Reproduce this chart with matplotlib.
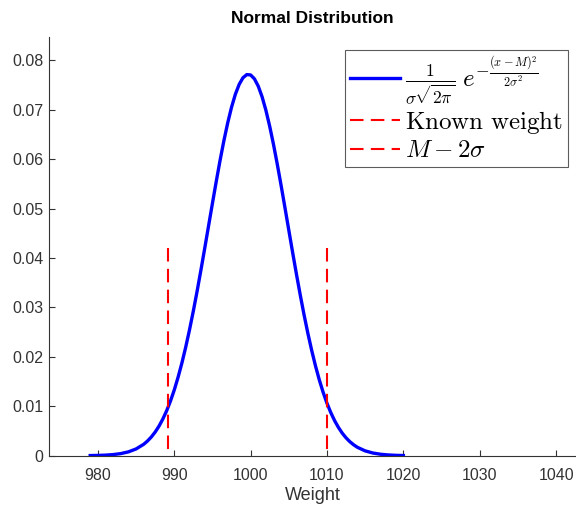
import matplotlib
matplotlib.use("Agg")
import matplotlib.pyplot as plt

# curve values (finer steps where it bends most)
weight = [
    979, 980, 981, 982, 983, 984, 985, 986, 986.5, 987, 987.5, 988, 988.5,
    989, 989.5, 990, 990.5, 991, 991.5, 992, 992.5, 993, 993.5, 994, 994.5,
    995, 995.5, 996, 996.5, 997, 997.5, 998, 998.5, 999, 999.5, 1000, 1000.5,
    1001, 1001.5, 1002, 1002.5, 1003, 1003.5, 1004, 1004.5, 1005, 1005.5,
    1006, 1006.5, 1007, 1007.5, 1008, 1008.5, 1009, 1009.5, 1010, 1010.5,
    1011, 1011.5, 1012, 1012.5, 1013, 1013.5, 1014, 1015, 1016, 1017, 1018,
    1019, 1020,
]
density = [
    0.000025, 0.000054, 0.000111, 0.00022, 0.00042, 0.00077, 0.00136, 0.00230,
    0.00297, 0.00378, 0.00477, 0.00596, 0.00739, 0.00906, 0.01102, 0.01327,
    0.01585, 0.01873, 0.02194, 0.02546, 0.02926, 0.03332, 0.03760, 0.04203,
    0.04654, 0.05105, 0.05548, 0.05974, 0.06372, 0.06733, 0.07049, 0.07311,
    0.07512, 0.07647, 0.07711, 0.07704, 0.07625, 0.07477, 0.07263, 0.06990,
    0.06664, 0.06295, 0.05890, 0.05461, 0.05015, 0.04563, 0.04113, 0.03673,
    0.03250, 0.02848, 0.02473, 0.02128, 0.01813, 0.01530, 0.01280, 0.01060,
    0.00871, 0.00708, 0.00571, 0.00455, 0.00360, 0.00282, 0.00219, 0.00168,
    0.00097, 0.00054, 0.00029, 0.00015, 0.00007, 0.00003,
]

known_weight = 1010
m_minus_2s = 989.2
marker_height = 0.042

x_ticks = [980, 990, 1000, 1010, 1020, 1030, 1040]
y_ticks = [0, 0.01, 0.02, 0.03, 0.04, 0.05, 0.06, 0.07, 0.08]
y_tick_labels = ["0", "0.01", "0.02", "0.03", "0.04", "0.05", "0.06", "0.07", "0.08"]

plt.rcParams["font.family"] = ["Liberation Sans", "DejaVu Sans"]
plt.rcParams["mathtext.fontset"] = "cm"

ink = "#333333"

fig = plt.figure(figsize=(5.76, 5.08), dpi=100)
ax = fig.add_axes([0.085, 0.103, 0.915, 0.824])

ax.plot(weight, density, color="#0000ff", lw=2.4, solid_joinstyle="round",
        label=r"$\frac{1}{\sigma\sqrt{2\pi}}\;e^{-\frac{(x-M)^2}{2\sigma^2}}$")
# drawn top-down so the dash pattern starts at the top like the original
ax.plot([known_weight, known_weight], [marker_height, 0], color="#ff0000",
        lw=1.5, ls=(0, (6.5, 3.5)), label=r"$\mathrm{Known\ weight}$")
ax.plot([m_minus_2s, m_minus_2s], [marker_height, 0], color="#ff0000",
        lw=1.5, ls=(0, (6.5, 3.5)), label=r"$M-2\sigma$")

ax.set_xlim(973.6, 1042.6)
ax.set_ylim(0, 0.0847)
ax.set_xticks(x_ticks)
ax.set_yticks(y_ticks)
ax.set_yticklabels(y_tick_labels)

for side in ["top", "right"]:
    ax.spines[side].set_visible(False)
for side in ["left", "bottom"]:
    ax.spines[side].set_color(ink)
    ax.spines[side].set_linewidth(0.8)
ax.tick_params(direction="in", length=4, width=0.8, colors=ink,
               labelsize=11.5)
ax.tick_params(axis="x", pad=9)
ax.tick_params(axis="y", pad=4)

ax.set_title("Normal Distribution", fontsize=12.5, fontweight="bold", pad=10)
ax.set_xlabel("Weight", fontsize=13, color=ink, labelpad=3)

leg = ax.legend(loc="upper right", bbox_to_anchor=(568 / 576, 1 - 50 / 508),
                bbox_transform=fig.transFigure, fontsize=18, frameon=True,
                fancybox=False, handlelength=2.0, handletextpad=0.2,
                borderpad=0.2, labelspacing=0.1, borderaxespad=0)
leg.get_frame().set_edgecolor(ink)
leg.get_frame().set_linewidth(0.8)

fig.savefig("out.png", dpi=100)
